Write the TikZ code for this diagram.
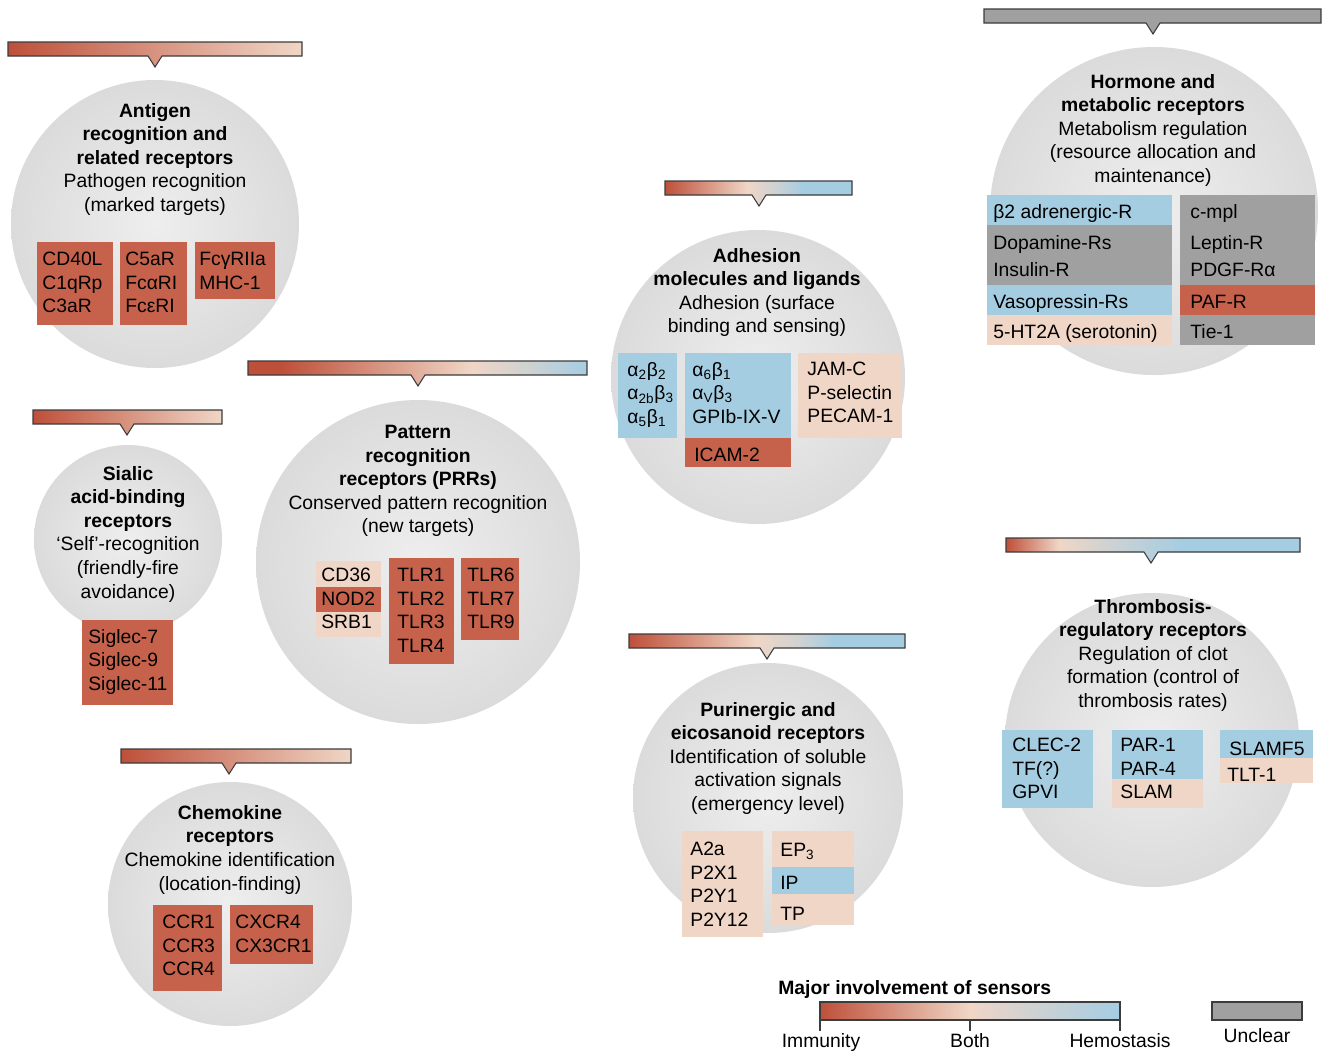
\documentclass[tikz,border=0pt]{standalone}
\usepackage{fontspec}
\setmainfont{Liberation Sans}
\usepackage{tikz}

\definecolor{immred}{RGB}{190,80,58}
\definecolor{boxred}{RGB}{198,98,76}
\definecolor{peach}{RGB}{240,214,198}
\definecolor{hemblue}{RGB}{165,205,226}
\definecolor{midgray}{RGB}{208,210,210}
\definecolor{unclgray}{RGB}{160,160,160}
\definecolor{circin}{RGB}{238,238,238}
\definecolor{circout}{RGB}{219,219,219}
\definecolor{edge}{RGB}{60,60,60}

% bar colours: the bounding box runs from 25bp to 75bp
\pgfdeclarehorizontalshading{barimm}{100bp}{color(0bp)=(immred); color(25bp)=(immred); color(75bp)=(peach); color(100bp)=(peach)}
\pgfdeclarehorizontalshading{barprr}{100bp}{color(0bp)=(immred); color(30bp)=(immred); color(58bp)=(peach); color(66bp)=(midgray); color(75bp)=(hemblue); color(100bp)=(hemblue)}
\pgfdeclarehorizontalshading{baradh}{100bp}{color(0bp)=(immred); color(25bp)=(immred); color(47bp)=(peach); color(54bp)=(midgray); color(62bp)=(hemblue); color(100bp)=(hemblue)}
\pgfdeclarehorizontalshading{barpur}{100bp}{color(0bp)=(immred); color(25bp)=(immred); color(48bp)=(peach); color(56bp)=(midgray); color(62bp)=(hemblue); color(100bp)=(hemblue)}
\pgfdeclarehorizontalshading{barthr}{100bp}{color(0bp)=(immred); color(25bp)=(immred); color(34bp)=(peach); color(42bp)=(midgray); color(55bp)=(hemblue); color(100bp)=(hemblue)}
\pgfdeclarehorizontalshading{barleg}{100bp}{color(0bp)=(immred); color(25bp)=(immred); color(50bp)=(peach); color(60bp)=(midgray); color(75bp)=(hemblue); color(100bp)=(hemblue)}
\pgfdeclarehorizontalshading{barunc}{100bp}{color(0bp)=(unclgray); color(100bp)=(unclgray)}

\begin{document}
\begin{tikzpicture}[x=0.02cm, y=-0.02cm, font=\fontsize{11}{13.4}\selectfont,
  txt/.style={inner sep=0, yshift=-0.04cm, execute at begin node=\strut},
  head/.style={txt, align=center, anchor=north},
  lst/.style={txt, align=left, anchor=north west},
  scale label/.style={inner sep=0, anchor=base},
  orb/.style={inner color=circin, outer color=circout},
  ]
  \fill[white] (0,0) rectangle (1325,1052);
  \useasboundingbox (0,0) rectangle (1325,1052);

  % sensor families
  \shade[orb] (155,224) circle (144);
  \shade[orb] (128,539) circle (94);
  \shade[orb] (230,904) circle (122);
  \shade[orb] (418,562) circle (162);
  \shade[orb] (758,377) circle (147);
  \shade[orb] (1154,211) circle (164);
  \shade[orb] (768,798) circle (135);
  \shade[orb] (1152,740) circle (147);

  \foreach \xa/\xb/\ya/\xp/\sh in {8/302/42/155/barimm, 33/222/410/127/barimm,
      121/351/749/229/barimm, 248/587/361/418/barprr, 665/852/181/759/baradh,
      984/1321/9/1153/barunc, 629/905/634/767/barpur, 1006/1300/538/1151/barthr}
    \shade[shading=\sh, draw=edge, line width=0.6pt] (\xa,\ya) -- (\xb,\ya) -- (\xb,\ya+14)
      -- (\xp+7,\ya+14) -- (\xp,\ya+25) -- (\xp-7,\ya+14) -- (\xa,\ya+14) -- cycle;

  % receptor boxes
  \fill[boxred] (37,242) rectangle (113,325);
  \fill[boxred] (120,242) rectangle (187,325);
  \fill[boxred] (195,242) rectangle (275,299);
  \fill[boxred] (82,620) rectangle (173,705);
  \fill[boxred] (153,905) rectangle (222,991);
  \fill[boxred] (230,905) rectangle (313,964);
  \fill[peach] (316,561) rectangle (381,637);
  \fill[boxred] (316,587) rectangle (381,612);
  \fill[boxred] (389,558) rectangle (454,664);
  \fill[boxred] (461,558) rectangle (519,640);
  \fill[hemblue] (618,353) rectangle (677,438);
  \fill[hemblue] (685,353) rectangle (791,438);
  \fill[boxred] (685,438) rectangle (791,467);
  \fill[peach] (798,353) rectangle (902,438);
  \fill[hemblue] (987,195) rectangle (1172,225);
  \fill[unclgray] (987,225) rectangle (1172,285);
  \fill[hemblue] (987,285) rectangle (1172,315);
  \fill[peach] (987,315) rectangle (1172,345);
  \fill[unclgray] (1180,195) rectangle (1315,345);
  \fill[boxred] (1180,285) rectangle (1315,315);
  \fill[peach] (682,831) rectangle (763,937);
  \fill[peach] (772,831) rectangle (854,925);
  \fill[hemblue] (772,867) rectangle (854,894);
  \fill[hemblue] (1002,730) rectangle (1093,808);
  \fill[hemblue] (1112,730) rectangle (1203,779);
  \fill[peach] (1112,779) rectangle (1203,808);
  \fill[hemblue] (1220,730) rectangle (1313,758);
  \fill[peach] (1220,758) rectangle (1313,783);

  % antigen
  \node[head] (agtitle) at (155,101) {\textbf{Antigen}\\\textbf{recognition and}\\\textbf{related receptors}\\Pathogen recognition\\(marked targets)};
  \node[lst] (aglist1) at (42,250) {CD40L\\C1qRp\\C3aR};
  \node[lst] (aglist2) at (125,250) {C5aR\\FcαRI\\FcεRI};
  \node[lst] (aglist3) at (199,250) {FcγRIIa\\MHC-1};

  % sialic acid
  \node[head] (satitle) at (128,464) {\textbf{Sialic}\\\textbf{acid-binding}\\\textbf{receptors}\\‘Self’-recognition\\(friendly-fire\\avoidance)};
  \node[lst] (salist) at (88,627) {Siglec-7\\Siglec-9\\Siglec-11};

  % chemokine
  \node[head] (chtitle) at (230,803) {\textbf{Chemokine}\\\textbf{receptors}\\Chemokine identification\\(location-finding)};
  \node[lst] (chlist1) at (162,913) {CCR1\\CCR3\\CCR4};
  \node[lst] (chlist2) at (235,913) {CXCR4\\CX3CR1};

  % pattern recognition
  \node[head] (prtitle) at (418,423) {\textbf{Pattern}\\\textbf{recognition}\\\textbf{receptors (PRRs)}\\Conserved pattern recognition\\(new targets)};
  \node[lst] (prlist1) at (321,566) {CD36\\NOD2\\SRB1};
  \node[lst] (prlist2) at (397,566) {TLR1\\TLR2\\TLR3\\TLR4};
  \node[lst] (prlist3) at (467,566) {TLR6\\TLR7\\TLR9};

  % adhesion
  \node[head] (adtitle) at (757,246) {\textbf{Adhesion}\\\textbf{molecules and ligands}\\Adhesion (surface\\binding and sensing)};
  \node[lst] (adlist1) at (627,360) {α\textsubscript{2}β\textsubscript{2}\\α\textsubscript{2b}β\textsubscript{3}\\α\textsubscript{5}β\textsubscript{1}};
  \node[lst] (adlist2) at (692,360) {α\textsubscript{6}β\textsubscript{1}\\α\textsubscript{V}β\textsubscript{3}\\GPIb-IX-V};
  \node[lst] (adlist3) at (807,360) {JAM-C\\P-selectin\\PECAM-1};
  \node[lst] (adlist4) at (694,443) {ICAM-2};

  % hormone
  \node[head] (hmtitle) at (1153,72) {\textbf{Hormone and}\\\textbf{metabolic receptors}\\Metabolism regulation\\(resource allocation and\\maintenance)};
  \node[lst] (hmleft1) at (993,200) {β2 adrenergic-R};
  \node[lst] (hmleft2) at (993,231) {Dopamine-Rs};
  \node[lst] (hmleft3) at (993,258) {Insulin-R};
  \node[lst] (hmleft4) at (993,290) {Vasopressin-Rs};
  \node[lst] (hmleft5) at (993,320) {5-HT2A (serotonin)};
  \node[lst] (hmright1) at (1190,200) {c-mpl};
  \node[lst] (hmright2) at (1190,231) {Leptin-R};
  \node[lst] (hmright3) at (1190,258) {PDGF-Rα};
  \node[lst] (hmright4) at (1190,290) {PAF-R};
  \node[lst] (hmright5) at (1190,320) {Tie-1};

  % purinergic
  \node[head] (putitle) at (768,700) {\textbf{Purinergic and}\\\textbf{eicosanoid receptors}\\Identification of soluble\\activation signals\\(emergency level)};
  \node[lst] (pulist1) at (690,840) {A2a\\P2X1\\P2Y1\\P2Y12};
  \node[lst] (pulist2) at (780,838) {EP\textsubscript{3}};
  \node[lst] (pulist3) at (780,871) {IP};
  \node[lst] (pulist4) at (780,902) {TP};

  % thrombosis
  \node[head] (thtitle) at (1153,597) {\textbf{Thrombosis-}\\\textbf{regulatory receptors}\\Regulation of clot\\formation (control of\\thrombosis rates)};
  \node[lst] (thlist1) at (1012,736) {CLEC-2\\TF(?)\\GPVI};
  \node[lst] (thlist2) at (1120,736) {PAR-1\\PAR-4\\SLAM};
  \node[lst] (thlist3) at (1229,737) {SLAMF5};
  \node[lst] (thlist4) at (1227,763) {TLT-1};

  % legend
  \node[lst] (legtitle) at (778,976) {\textbf{Major involvement of sensors}};
  \shade[shading=barleg, draw=edge, line width=0.6pt] (820,1002) rectangle (1120,1020);
  \draw[edge, line width=0.6pt] (820,1020) -- (820,1031) (970,1020) -- (970,1031) (1120,1020) -- (1120,1031);
  \node[scale label] (legimm) at (821,1047) {Immunity};
  \node[scale label] (legboth) at (970,1047) {Both};
  \node[scale label] (leghem) at (1120,1047) {Hemostasis};
  \filldraw[fill=unclgray, draw=edge, line width=0.6pt] (1212,1002) rectangle (1302,1020);
  \node[scale label] (legunc) at (1257,1042) {Unclear};
\end{tikzpicture}
\end{document}
